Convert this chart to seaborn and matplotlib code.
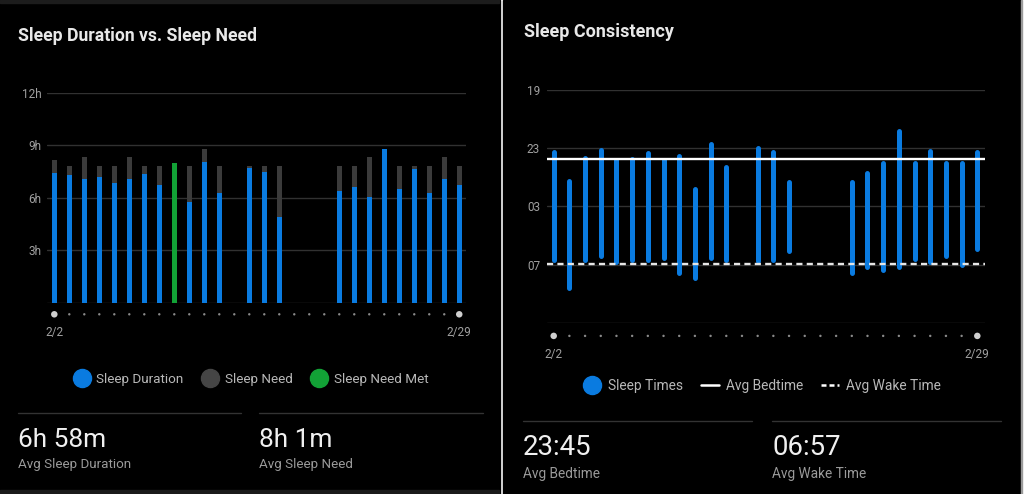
import numpy as np
import pandas as pd
import matplotlib
matplotlib.use("Agg")
import matplotlib.pyplot as plt
import seaborn as sns
from matplotlib.lines import Line2D
from matplotlib.patches import Rectangle

# ---------------- data ----------------
days = list(range(28))                      # 2/2 .. 2/29
date_labels = ["2/2", "2/29"]

sleep_duration = [7.39, 7.30, 7.07, 7.20, 6.82, 7.07, 7.35, 6.70, 8.00, 5.74,
                  8.04, 6.25, np.nan, 7.68, 7.47, 4.88, np.nan, np.nan, np.nan, 6.40,
                  6.59, 6.06, 8.76, 6.48, 7.66, 6.27, 7.07, 6.72]
sleep_need = [8.15, 7.80, 8.30, 7.80, 7.80, 8.30, 7.80, 7.80, 7.80, 7.80,
              8.78, 7.80, np.nan, 7.80, 7.80, 7.80, np.nan, np.nan, np.nan, 7.80,
              7.80, 8.30, 7.80, 7.80, 7.80, 7.80, 8.30, 7.80]
need_met_days = [8]

# clock times (decimal hours)
bedtimes = [23.25, 1.29, 23.66, 23.11, 23.84, 23.71, 23.34, 23.80, 23.57, 1.84,
            22.68, 0.32, np.nan, 23.02, 23.29, 1.31, np.nan, np.nan, np.nan, 1.31,
            0.74, 0.00, 21.85, 0.00, 23.22, 0.00, 0.00, 23.25]
waketimes = [6.67, 8.58, 6.67, 6.44, 6.81, 6.67, 6.67, 6.56, 7.57, 7.91,
             6.56, 6.72, np.nan, 6.73, 6.67, 6.10, np.nan, np.nan, np.nan, 7.61,
             7.20, 7.38, 7.20, 6.63, 6.81, 6.42, 7.04, 5.96]
avg_bedtime = 23.75
avg_waketime = 6 + 57 / 60

dur_ticks = [0, 3, 6, 9, 12]
dur_tick_labels = ["", "3h", "6h", "9h", "12h"]
time_ticks = [19, 23, 3, 7, 11]
time_tick_labels = ["19", "23", "03", "07", ""]

left_title = "Sleep Duration vs. Sleep Need"
right_title = "Sleep Consistency"
left_legend = ["Sleep Duration", "Sleep Need", "Sleep Need Met"]
right_legend = ["Sleep Times", "Avg Bedtime", "Avg Wake Time"]
stats_left = [("6h 58m", "Avg Sleep Duration"), ("8h 1m", "Avg Sleep Need")]
stats_right = [("23:45", "Avg Bedtime"), ("06:57", "Avg Wake Time")]

# ---------------- style ----------------
BLUE = "#0a7be0"
GREEN = "#12a236"
NEED = "#3b3b3b"
GRID = "#313131"
TICK = "#a0a0a0"

sns.set_theme(style="dark")
plt.rcParams["font.family"] = ["Roboto", "DejaVu Sans"]

W, H = 1024, 494
fig = plt.figure(figsize=(W / 100, H / 100), dpi=100)
fig.patch.set_facecolor("white")


def fx(x):
    return x / W


def fy(y):
    return 1 - y / H


# panels
fig.add_artist(Rectangle((0, 0), fx(500), 1, transform=fig.transFigure,
                         color="black", zorder=-10))
fig.add_artist(Rectangle((0, fy(3)), fx(499), 3 / H, transform=fig.transFigure,
                         color="#1c1c1c", zorder=-9))
fig.add_artist(Rectangle((0, 0), fx(499), 4 / H, transform=fig.transFigure,
                         color="#1a1a1a", zorder=-9))
fig.add_artist(Rectangle((fx(503), 0), fx(1021 - 503), 1, transform=fig.transFigure,
                         color="black", zorder=-10))
fig.add_artist(Rectangle((fx(1020.5), 0), fx(1), 1, transform=fig.transFigure,
                         color="#9a9a9a", zorder=-9))


def style_axes(ax):
    ax.set_facecolor("none")
    for s in ax.spines.values():
        s.set_visible(False)
    ax.yaxis.grid(True, color=GRID, linewidth=1.0, zorder=0)
    ax.xaxis.grid(False)
    ax.set_axisbelow(True)
    ax.tick_params(axis="both", length=0, colors=TICK, labelsize=8.5)
    ax.set_xlabel("")
    ax.set_ylabel("")


# ---------------- left chart ----------------
ax1 = fig.add_axes([fx(46.7), fy(302.7), fx(466 - 46.7), (302.7 - 92.7) / H])
df = pd.DataFrame({"day": days, "duration": sleep_duration, "need": sleep_need})
df["status"] = ["Sleep Need Met" if d in need_met_days else "Sleep Duration" for d in days]

sns.barplot(data=df, x="day", y="need", native_scale=True, color=NEED,
            saturation=1, width=0.36, errorbar=None, ax=ax1, zorder=2,
            linewidth=0)
sns.barplot(data=df, x="day", y="duration", hue="status", native_scale=True,
            palette={"Sleep Duration": BLUE, "Sleep Need Met": GREEN},
            dodge=False, saturation=1, width=0.36, errorbar=None, ax=ax1,
            zorder=3, legend=False, linewidth=0)
style_axes(ax1)
ax1.set_ylim(0, 12)
ax1.set_xlim(-0.507, 27.45)
ax1.set_yticks(dur_ticks)
ax1.set_yticklabels(dur_tick_labels)
ax1.tick_params(axis="y", pad=3.6)
ax1.set_xticks([])

dot_y1 = -(314.3 - 302.7) / 17.5
sizes = [22 if d in (days[0], days[-1]) else 3 for d in days]
cols = ["#cfcfcf" if d in (days[0], days[-1]) else "#8a8a8a" for d in days]
ax1.scatter(days, [dot_y1] * len(days), s=sizes, c=cols, clip_on=False,
            linewidths=0, zorder=4)
lab_y1 = -(332.3 - 302.7) / 17.5
ax1.text(days[0], lab_y1, date_labels[0], ha="center", va="center",
         color=TICK, fontsize=8.5, clip_on=False)
ax1.text(days[-1], lab_y1, date_labels[1], ha="center", va="center",
         color=TICK, fontsize=8.5, clip_on=False)

# ---------------- right chart ----------------
ax2 = fig.add_axes([fx(546.7), fy(322.7), fx(985 - 546.7), (322.7 - 90) / H])


def since19(h):
    return (np.asarray(h, dtype=float) - 19) % 24


bed_y = since19(bedtimes)
wake_y = since19(waketimes)
ax2.vlines(days, bed_y, wake_y, colors=BLUE, linewidth=3.6, capstyle="round",
           zorder=3)
ax2.axhline(since19(avg_bedtime), color="white", linewidth=1.7, zorder=4)
ax2.axhline(since19(avg_waketime), color="#e6e6e6", linewidth=1.7,
            dashes=(2.6, 1.8), zorder=4)
style_axes(ax2)
ax2.set_ylim(16, 0)
ax2.set_xlim(-0.446, 27.49)
ax2.set_yticks(since19(time_ticks))
ax2.set_yticklabels(time_tick_labels)
ax2.tick_params(axis="y", pad=4.8)
ax2.set_xticks([])

dot_y2 = (336 - 90) / 14.55
ax2.scatter(days, [dot_y2] * len(days), s=sizes, c=cols, clip_on=False,
            linewidths=0, zorder=4)
lab_y2 = (355 - 90) / 14.55
ax2.text(days[0], lab_y2, date_labels[0], ha="center", va="center",
         color=TICK, fontsize=8.5, clip_on=False)
ax2.text(days[-1], lab_y2, date_labels[1], ha="center", va="center",
         color=TICK, fontsize=8.5, clip_on=False)

# ---------------- titles ----------------
fig.text(fx(18), fy(40.7), left_title, fontsize=12.7, fontweight="bold",
         color="#e8e8e8", va="baseline", ha="left")
fig.text(fx(523.5), fy(36.7), right_title, fontsize=13.0, fontweight="bold",
         color="#e8e8e8", va="baseline", ha="left")

# ---------------- legends ----------------
h_left = [Line2D([], [], marker="o", ls="none", markersize=13,
                 markerfacecolor=c, markeredgecolor=c) for c in (BLUE, "#454545", GREEN)]
fig.legend(h_left, left_legend, loc="center", bbox_to_anchor=(fx(250.5), fy(379)),
           ncol=3, frameon=False, fontsize=9.7, labelcolor="#b8b8b8",
           handlelength=1.3, handletextpad=0.45, columnspacing=1.3,
           borderaxespad=0, borderpad=0)

h_right = [Line2D([], [], marker="o", ls="none", markersize=13,
                  markerfacecolor=BLUE, markeredgecolor=BLUE),
           Line2D([], [], color="white", linewidth=1.8),
           Line2D([], [], color="white", linewidth=1.8, dashes=(2.0, 1.2))]
fig.legend(h_right, right_legend, loc="center", bbox_to_anchor=(fx(762), fy(385.7)),
           ncol=3, frameon=False, fontsize=9.9, labelcolor="#b8b8b8",
           handlelength=1.3, handletextpad=0.5, columnspacing=1.3,
           borderaxespad=0, borderpad=0)

# ---------------- stats ----------------
def stat_block(x0, x1, line_y, big_y, small_y, big, small, big_fs, small_fs):
    fig.add_artist(Line2D([fx(x0), fx(x1)], [fy(line_y)] * 2, color="#333333",
                          linewidth=1.0, transform=fig.transFigure))
    fig.text(fx(x0), fy(big_y), big, fontsize=big_fs, color="#f0f0f0",
             va="baseline", ha="left")
    fig.text(fx(x0), fy(small_y), small, fontsize=small_fs, color="#9a9a9a",
             va="baseline", ha="left")


stat_block(18, 241, 412.7, 447.3, 468.3, stats_left[0][0], stats_left[0][1], 18.9, 9.6)
stat_block(259, 483, 412.7, 447.3, 468.3, stats_left[1][0], stats_left[1][1], 18.9, 9.6)
stat_block(523, 752, 421, 455, 478.3, stats_right[0][0], stats_right[0][1], 19.9, 9.8)
stat_block(772, 1001, 421, 455, 478.3, stats_right[1][0], stats_right[1][1], 19.9, 9.8)

fig.savefig("out.png", dpi=100, facecolor="white")
